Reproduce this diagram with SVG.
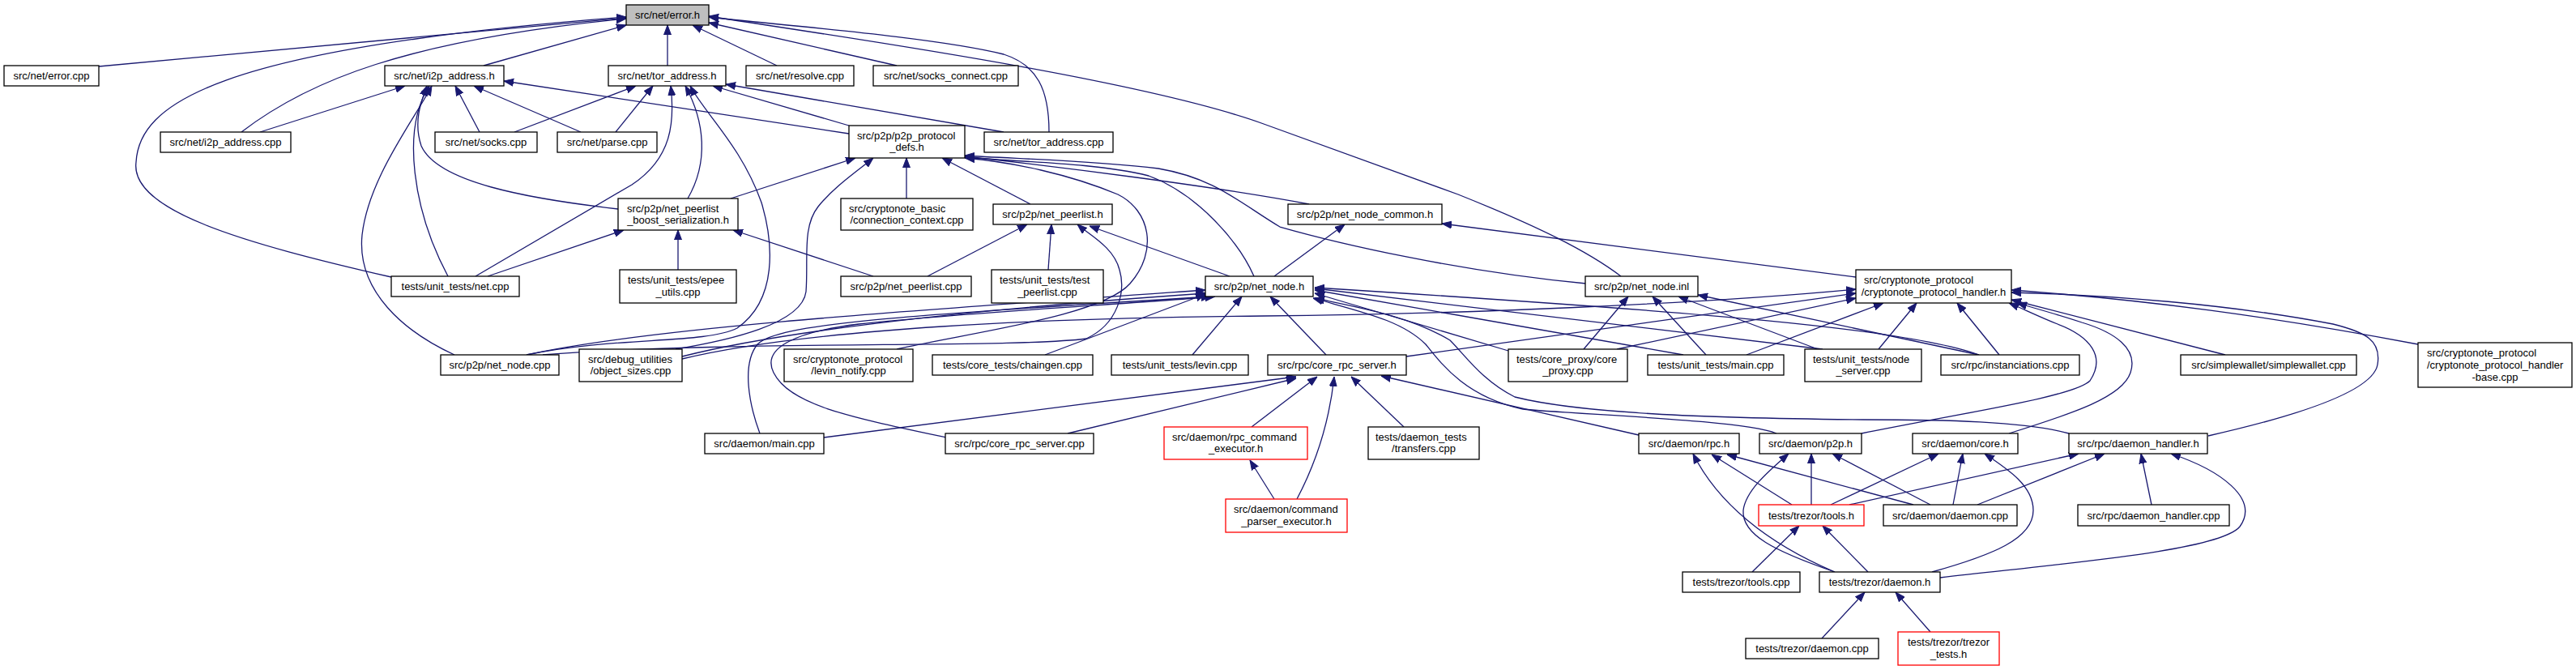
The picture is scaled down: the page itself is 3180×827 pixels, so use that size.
<svg xmlns="http://www.w3.org/2000/svg" width="3180" height="827" viewBox="0 0 3180 827">
<style>
.bg{fill:#ffffff}
.n rect{fill:#ffffff;stroke:#000000;stroke-width:1.3}
.n.red rect{stroke:#ff0000}
.n.grey rect{fill:#bfbfbf}
.n text{font-family:"Liberation Sans",Arial,sans-serif;font-size:13px;fill:#000000}
.c{text-anchor:middle}
#edges path{fill:none;stroke:#191970;stroke-width:1.3;marker-end:url(#ah)}
</style>
<defs>
<marker id="ah" markerWidth="12" markerHeight="10" refX="12" refY="5" orient="auto" markerUnits="userSpaceOnUse">
<path d="M0,0.5 L12,5 L0,9.5 z" fill="#191970" stroke="#191970" stroke-width="1"/>
</marker>
</defs>
<rect class="bg" x="0" y="0" width="3180" height="827"/>
<g id="edges">
<path d="M122,82 L773,22"/>
<path d="M298,163 C380,100 500,50 773,23"/>
<path d="M483,342 C300,300 160,260 168,200 C172,130 260,60 773,21"/>
<path d="M597,81 L773,31"/>
<path d="M824,81 L824,31"/>
<path d="M959,81 L855,31"/>
<path d="M1107,81 L875,28"/>
<path d="M1295,163 C1295,110 1280,80 1239,67 C1150,45 950,30 875,21"/>
<path d="M2001,341 C1960,310 1900,280 1800,240 L1560,153 C1400,95 1000,40 875,20"/>
<path d="M321,163 L500,106"/>
<path d="M592,163 L562,106"/>
<path d="M717,163 L585,106"/>
<path d="M1048,165 L622,100"/>
<path d="M763,258 C650,245 540,225 520,180 C510,150 520,125 527,106"/>
<path d="M553,341 C510,260 495,160 530,106"/>
<path d="M561,438 C500,410 440,360 447,290 C455,220 510,150 533,106"/>
<path d="M635,163 L785,106"/>
<path d="M760,163 L806,106"/>
<path d="M587,341 L780,228 C830,195 833,150 828,106"/>
<path d="M849,245 C875,200 870,150 846,106"/>
<path d="M650,438 C760,415 870,425 910,405 C960,370 955,300 940,250 C915,180 870,140 852,106"/>
<path d="M1048,155 L880,106"/>
<path d="M1239,163 L896,104"/>
<path d="M902,245 L1056,195"/>
<path d="M834,431 C900,420 990,400 995,360 C998,320 990,280 1010,255 C1030,230 1060,210 1078,195"/>
<path d="M1119,245 L1119,195"/>
<path d="M1272,252 L1163,195"/>
<path d="M1548,341 C1530,300 1480,240 1418,217 C1350,200 1250,200 1191,194"/>
<path d="M1616,252 C1500,230 1300,205 1191,193"/>
<path d="M1958,350 C1800,335 1650,300 1580,280 C1530,250 1500,220 1430,208 C1350,198 1250,196 1191,192"/>
<path d="M1107,431 C1200,410 1360,390 1395,350 C1430,310 1420,260 1380,240 C1320,215 1250,200 1191,195"/>
<path d="M602,341 L770,284"/>
<path d="M837,333 L837,284"/>
<path d="M1078,341 L905,284"/>
<path d="M1145,341 L1268,277"/>
<path d="M1294,333 L1298,277"/>
<path d="M670,438 C900,420 1250,430 1341,418 C1380,400 1390,360 1382,333 C1375,305 1345,290 1330,277"/>
<path d="M1518,341 L1345,279"/>
<path d="M1573,341 L1660,277"/>
<path d="M2291,342 L1780,276"/>
<path d="M650,438 C800,405 1100,385 1488,358"/>
<path d="M842,440 C1000,400 1300,375 1489,362"/>
<path d="M842,443 C1000,405 1300,392 1560,390 C1800,388 2100,375 2291,357"/>
<path d="M1290,438 L1488,363"/>
<path d="M1472,438 L1533,366"/>
<path d="M1637,438 L1568,366"/>
<path d="M938,535 C925,500 915,450 935,425 C960,400 1100,390 1495,366"/>
<path d="M1168,540 C1050,515 975,500 955,460 C940,430 980,410 1060,400 C1200,385 1400,375 1500,366"/>
<path d="M1862,433 L1623,362"/>
<path d="M2078,438 L1623,358"/>
<path d="M2250,431 L1623,356"/>
<path d="M2443,438 C2350,405 2100,385 1623,355"/>
<path d="M2193,535 C2150,518 1950,512 1880,505 C1810,490 1780,450 1760,425 C1730,395 1680,385 1621,368"/>
<path d="M2554,535 C2500,520 2400,518 2300,518 C2100,516 1950,510 1870,490 C1830,470 1810,440 1790,420 C1740,390 1680,380 1623,368"/>
<path d="M1736,440 L2291,362"/>
<path d="M1996,431 L2291,368"/>
<path d="M2156,438 L2325,374"/>
<path d="M2319,431 L2366,374"/>
<path d="M2468,438 L2416,374"/>
<path d="M2747,438 L2483,370"/>
<path d="M2985,425 C2800,390 2650,370 2483,358"/>
<path d="M2726,538 C2850,510 2930,480 2935,450 C2940,420 2920,410 2880,400 C2750,375 2600,364 2483,361"/>
<path d="M2298,535 C2420,510 2560,490 2580,470 C2600,440 2580,415 2540,400 C2515,390 2495,380 2480,374"/>
<path d="M2480,535 C2560,510 2620,490 2630,460 C2640,430 2610,410 2570,398 C2540,388 2510,380 2490,374"/>
<path d="M1955,431 L2010,366"/>
<path d="M2106,438 L2040,366"/>
<path d="M2244,431 L2072,366"/>
<path d="M2443,438 L2096,364"/>
<path d="M1017,540 L1600,465"/>
<path d="M1318,535 L1600,467"/>
<path d="M1545,527 L1626,465"/>
<path d="M1601,616 C1620,580 1640,530 1647,465"/>
<path d="M1733,527 L1668,465"/>
<path d="M2023,537 L1705,464"/>
<path d="M1573,616 L1543,568"/>
<path d="M2265,706 C2180,670 2120,620 2090,560"/>
<path d="M2212,623 L2113,561"/>
<path d="M2362,623 L2132,561"/>
<path d="M2265,706 C2190,680 2150,660 2152,630 C2155,605 2185,580 2208,560"/>
<path d="M2236,623 L2236,560"/>
<path d="M2383,623 L2262,560"/>
<path d="M2260,623 L2393,560"/>
<path d="M2411,623 L2423,560"/>
<path d="M2385,706 C2460,685 2510,665 2510,630 C2510,600 2480,580 2450,560"/>
<path d="M2283,623 L2566,560"/>
<path d="M2441,623 L2598,560"/>
<path d="M2656,623 L2643,560"/>
<path d="M2395,713 C2550,695 2740,680 2765,650 C2790,615 2740,580 2680,560"/>
<path d="M2163,706 L2221,649"/>
<path d="M2306,706 L2250,649"/>
<path d="M2249,788 L2302,731"/>
<path d="M2383,780 L2340,731"/>
</g>
<g id="n_error_h" class="n grey"><rect x="773" y="6" width="102" height="25"/><text class="c" x="824" y="23">src/net/error.h</text></g>
<g id="n_error_cpp" class="n"><rect x="5" y="81" width="117" height="25"/><text class="c" x="63.5" y="98">src/net/error.cpp</text></g>
<g id="n_i2p_h" class="n"><rect x="475" y="81" width="147" height="25"/><text class="c" x="548.5" y="98">src/net/i2p_address.h</text></g>
<g id="n_tor_h" class="n"><rect x="751" y="81" width="145" height="25"/><text class="c" x="823.5" y="98">src/net/tor_address.h</text></g>
<g id="n_resolve" class="n"><rect x="921" y="81" width="133" height="25"/><text class="c" x="987.5" y="98">src/net/resolve.cpp</text></g>
<g id="n_socks_connect" class="n"><rect x="1078" y="81" width="179" height="25"/><text class="c" x="1167.5" y="98">src/net/socks_connect.cpp</text></g>
<g id="n_i2p_cpp" class="n"><rect x="198" y="163" width="161" height="25"/><text class="c" x="278.5" y="180">src/net/i2p_address.cpp</text></g>
<g id="n_socks_cpp" class="n"><rect x="537" y="163" width="126" height="25"/><text class="c" x="600" y="180">src/net/socks.cpp</text></g>
<g id="n_parse_cpp" class="n"><rect x="688" y="163" width="123" height="25"/><text class="c" x="749.5" y="180">src/net/parse.cpp</text></g>
<g id="n_p2p_defs" class="n"><rect x="1048" y="155" width="143" height="40"/><text x="1058" y="171.5">src/p2p/p2p_protocol</text><text class="c" x="1119.5" y="185.5">_defs.h</text></g>
<g id="n_tor_cpp" class="n"><rect x="1215" y="163" width="159" height="25"/><text class="c" x="1294.5" y="180">src/net/tor_address.cpp</text></g>
<g id="n_boost" class="n"><rect x="763" y="245" width="148" height="39"/><text x="774" y="261.5">src/p2p/net_peerlist</text><text class="c" x="837" y="275.5">_boost_serialization.h</text></g>
<g id="n_conn_ctx" class="n"><rect x="1038" y="245" width="163" height="39"/><text x="1048" y="261.5">src/cryptonote_basic</text><text class="c" x="1119.5" y="275.5">/connection_context.cpp</text></g>
<g id="n_peerlist_h" class="n"><rect x="1226" y="252" width="147" height="25"/><text class="c" x="1299.5" y="269">src/p2p/net_peerlist.h</text></g>
<g id="n_node_common" class="n"><rect x="1590" y="252" width="190" height="25"/><text class="c" x="1685" y="269">src/p2p/net_node_common.h</text></g>
<g id="n_net_cpp" class="n"><rect x="483" y="341" width="158" height="25"/><text class="c" x="562" y="358">tests/unit_tests/net.cpp</text></g>
<g id="n_epee" class="n"><rect x="765" y="333" width="144" height="41"/><text x="775" y="350">tests/unit_tests/epee</text><text class="c" x="837" y="364.5">_utils.cpp</text></g>
<g id="n_peerlist_cpp" class="n"><rect x="1038" y="341" width="161" height="25"/><text class="c" x="1118.5" y="358">src/p2p/net_peerlist.cpp</text></g>
<g id="n_test_peerlist" class="n"><rect x="1224" y="333" width="138" height="41"/><text x="1234" y="350">tests/unit_tests/test</text><text class="c" x="1293" y="364.5">_peerlist.cpp</text></g>
<g id="n_net_node_h" class="n"><rect x="1488" y="341" width="133" height="25"/><text class="c" x="1554.5" y="358">src/p2p/net_node.h</text></g>
<g id="n_net_node_inl" class="n"><rect x="1957" y="341" width="139" height="25"/><text class="c" x="2026.5" y="358">src/p2p/net_node.inl</text></g>
<g id="n_cph" class="n"><rect x="2291" y="333" width="192" height="41"/><text x="2301" y="350">src/cryptonote_protocol</text><text class="c" x="2387" y="364.5">/cryptonote_protocol_handler.h</text></g>
<g id="n_net_node_cpp" class="n"><rect x="544" y="438" width="146" height="25"/><text class="c" x="617" y="455">src/p2p/net_node.cpp</text></g>
<g id="n_object_sizes" class="n"><rect x="715" y="431" width="127" height="40"/><text x="726" y="447.5">src/debug_utilities</text><text class="c" x="778.5" y="461.5">/object_sizes.cpp</text></g>
<g id="n_levin_notify" class="n"><rect x="968" y="431" width="159" height="40"/><text x="979" y="447.5">src/cryptonote_protocol</text><text class="c" x="1047.5" y="461.5">/levin_notify.cpp</text></g>
<g id="n_chaingen" class="n"><rect x="1151" y="438" width="198" height="25"/><text class="c" x="1250" y="455">tests/core_tests/chaingen.cpp</text></g>
<g id="n_levin_cpp" class="n"><rect x="1372" y="438" width="169" height="25"/><text class="c" x="1456.5" y="455">tests/unit_tests/levin.cpp</text></g>
<g id="n_core_rpc_h" class="n"><rect x="1565" y="438" width="171" height="25"/><text class="c" x="1650.5" y="455">src/rpc/core_rpc_server.h</text></g>
<g id="n_core_proxy" class="n"><rect x="1862" y="431" width="147" height="40"/><text x="1872" y="447.5">tests/core_proxy/core</text><text class="c" x="1935.5" y="461.5">_proxy.cpp</text></g>
<g id="n_ut_main" class="n"><rect x="2034" y="438" width="168" height="25"/><text class="c" x="2118" y="455">tests/unit_tests/main.cpp</text></g>
<g id="n_node_server" class="n"><rect x="2228" y="431" width="144" height="40"/><text x="2238" y="447.5">tests/unit_tests/node</text><text class="c" x="2300" y="461.5">_server.cpp</text></g>
<g id="n_instanciations" class="n"><rect x="2396" y="438" width="171" height="25"/><text class="c" x="2481.5" y="455">src/rpc/instanciations.cpp</text></g>
<g id="n_simplewallet" class="n"><rect x="2692" y="438" width="217" height="25"/><text class="c" x="2800.5" y="455">src/simplewallet/simplewallet.cpp</text></g>
<g id="n_handler_base" class="n"><rect x="2985" y="423" width="190" height="55"/><text x="2996" y="439.5">src/cryptonote_protocol</text><text x="2996" y="454.5">/cryptonote_protocol_handler</text><text class="c" x="3080" y="469.5">-base.cpp</text></g>
<g id="n_daemon_main" class="n"><rect x="870" y="535" width="147" height="25"/><text class="c" x="943.5" y="552">src/daemon/main.cpp</text></g>
<g id="n_core_rpc_cpp" class="n"><rect x="1167" y="535" width="183" height="25"/><text class="c" x="1258.5" y="552">src/rpc/core_rpc_server.cpp</text></g>
<g id="n_rpc_cmd_exec" class="n red"><rect x="1437" y="527" width="177" height="40"/><text x="1447" y="543.5">src/daemon/rpc_command</text><text class="c" x="1525.5" y="557.5">_executor.h</text></g>
<g id="n_transfers" class="n"><rect x="1689" y="527" width="137" height="40"/><text x="1698" y="543.5">tests/daemon_tests</text><text class="c" x="1757.5" y="557.5">/transfers.cpp</text></g>
<g id="n_rpc_h" class="n"><rect x="2023" y="535" width="124" height="25"/><text class="c" x="2085" y="552">src/daemon/rpc.h</text></g>
<g id="n_p2p_h" class="n"><rect x="2172" y="535" width="126" height="25"/><text class="c" x="2235" y="552">src/daemon/p2p.h</text></g>
<g id="n_core_h" class="n"><rect x="2361" y="535" width="130" height="25"/><text class="c" x="2426" y="552">src/daemon/core.h</text></g>
<g id="n_daemon_handler_h" class="n"><rect x="2554" y="535" width="171" height="25"/><text class="c" x="2639.5" y="552">src/rpc/daemon_handler.h</text></g>
<g id="n_cmd_parser" class="n red"><rect x="1513" y="616" width="150" height="41"/><text x="1523" y="633">src/daemon/command</text><text class="c" x="1588" y="647.5">_parser_executor.h</text></g>
<g id="n_tools_h" class="n red"><rect x="2171" y="623" width="130" height="26"/><text class="c" x="2236" y="640.5">tests/trezor/tools.h</text></g>
<g id="n_daemon_cpp" class="n"><rect x="2325" y="623" width="165" height="26"/><text class="c" x="2407.5" y="640.5">src/daemon/daemon.cpp</text></g>
<g id="n_daemon_handler_cpp" class="n"><rect x="2565" y="623" width="187" height="26"/><text class="c" x="2658.5" y="640.5">src/rpc/daemon_handler.cpp</text></g>
<g id="n_tools_cpp" class="n"><rect x="2077" y="706" width="145" height="25"/><text class="c" x="2149.5" y="723">tests/trezor/tools.cpp</text></g>
<g id="n_trezor_daemon_h" class="n"><rect x="2246" y="706" width="149" height="25"/><text class="c" x="2320.5" y="723">tests/trezor/daemon.h</text></g>
<g id="n_trezor_daemon_cpp" class="n"><rect x="2155" y="788" width="164" height="25"/><text class="c" x="2237" y="805">tests/trezor/daemon.cpp</text></g>
<g id="n_trezor_tests" class="n red"><rect x="2343" y="780" width="125" height="41"/><text x="2355" y="797">tests/trezor/trezor</text><text class="c" x="2405.5" y="811.5">_tests.h</text></g>
</svg>
